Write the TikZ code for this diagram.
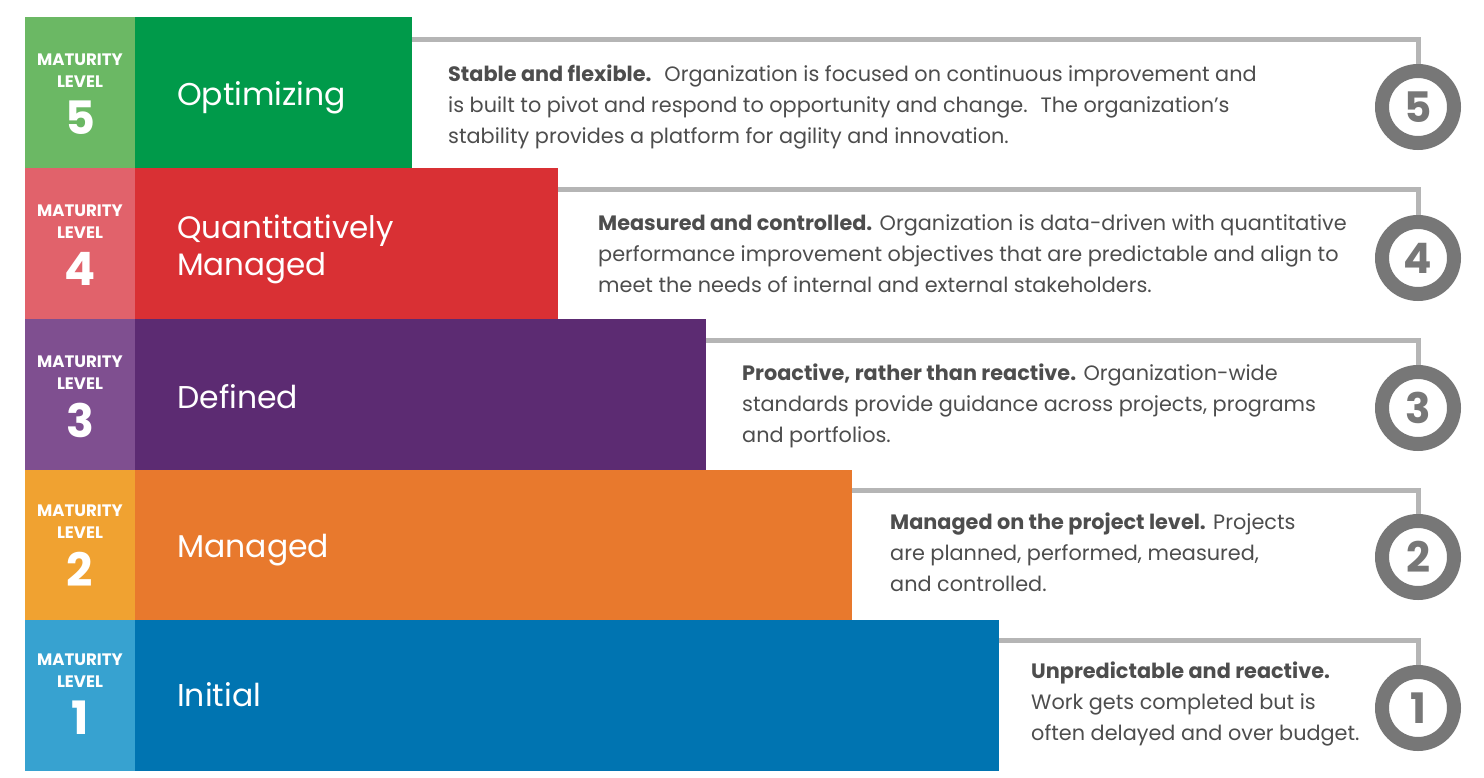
\documentclass[tikz,border=0pt]{standalone}
\usepackage{fontspec}
\setmainfont{Poppins}
\definecolor{gAl}{HTML}{6BB864}
\definecolor{gAd}{HTML}{009A4A}
\definecolor{rBl}{HTML}{E1626B}
\definecolor{rBd}{HTML}{D93034}
\definecolor{pCl}{HTML}{7F4F90}
\definecolor{pCd}{HTML}{5C2B72}
\definecolor{oDl}{HTML}{F0A231}
\definecolor{oDd}{HTML}{E8792D}
\definecolor{bEl}{HTML}{37A2D0}
\definecolor{bEd}{HTML}{0074B1}
\definecolor{descgray}{HTML}{4D4D4D}
\definecolor{ringgray}{HTML}{777777}
\definecolor{linegray}{HTML}{B5B5B5}
\begin{document}
\begin{tikzpicture}[x=1pt,y=-1pt,
  lvlbox/.style={anchor=north west, inner sep=0pt, outer sep=0pt, minimum width=110pt, minimum height=151pt},
  band/.style={anchor=north west, inner sep=0pt, outer sep=0pt, minimum height=151pt},
  conn/.style={draw=linegray, line width=5pt},
  ring/.style={circle, draw=ringgray, fill=white, line width=14pt, minimum size=72pt, inner sep=0pt, outer sep=7pt, text=ringgray, font=\fontsize{42}{42}\selectfont\bfseries},
  mlab/.style={text=white, inner sep=0pt, align=center, font=\fontsize{16.6}{22}\selectfont\bfseries},
  digit/.style={text=white, inner sep=0pt, font=\fontsize{46}{46}\selectfont\bfseries},
  ttl/.style={text=white, anchor=base west, inner sep=0pt, align=left, font=\fontsize{31.5}{37}\selectfont},
  desc/.style={anchor=north west, inner sep=0pt, align=left, text=descgray, font=\fontsize{20.8}{31}\selectfont}
]
\useasboundingbox (0,0) rectangle (1484,778);
\fill[white] (0,0) rectangle (1484,778);

% ---------- Level 5
\node[lvlbox, fill=gAl] (m5) at (25,17) {};
\node[band, fill=gAd, minimum width=277pt] (b5) at (135,17) {};
\node[mlab] (t5) at (80,71) {MATURITY\\LEVEL};
\node[digit] (d5) at (80,118) {5};
\node[ttl] (n5) at (177,106) {Optimizing};
\coordinate (s5) at (412,40);
\node[ring] (c5) at (1418,107) {5};
\draw[conn] (s5) -| (c5.north);
\node[desc] (x5) at (448,65) {\textbf{Stable and flexible.}~ Organization is focused on continuous improvement and\\
is built to pivot and respond to opportunity and change.~ The organization’s\\
stability provides a platform for agility and innovation.};

% ---------- Level 4
\node[lvlbox, fill=rBl] (m4) at (25,168) {};
\node[band, fill=rBd, minimum width=423pt] (b4) at (135,168) {};
\node[mlab] (t4) at (80,222) {MATURITY\\LEVEL};
\node[digit] (d4) at (80,269) {4};
\node[ttl, anchor=west, font=\fontsize{31}{37}\selectfont] (n4) at (177,249) {Quantitatively\\Managed};
\coordinate (s4) at (558,190);
\node[ring] (c4) at (1418,258) {4};
\draw[conn] (s4) -| (c4.north);
\node[desc] (x4) at (598,214) {\textbf{Measured and controlled.} Organization is data-driven with quantitative\\
performance improvement objectives that are predictable and align to\\
meet the needs of internal and external stakeholders.};

% ---------- Level 3
\node[lvlbox, fill=pCl] (m3) at (25,319) {};
\node[band, fill=pCd, minimum width=571pt] (b3) at (135,319) {};
\node[mlab] (t3) at (80,373) {MATURITY\\LEVEL};
\node[digit] (d3) at (80,420) {3};
\node[ttl] (n3) at (177,408) {Defined};
\coordinate (s3) at (706,340);
\node[ring] (c3) at (1418,408) {3};
\draw[conn] (s3) -| (c3.north);
\node[desc] (x3) at (742,364) {\textbf{Proactive, rather than reactive.} Organization-wide\\
standards provide guidance across projects, programs\\
and portfolios.};

% ---------- Level 2
\node[lvlbox, fill=oDl] (m2) at (25,470) {};
\node[band, fill=oDd, minimum width=717pt] (b2) at (135,470) {};
\node[mlab] (t2) at (80,522) {MATURITY\\LEVEL};
\node[digit] (d2) at (80,569) {2};
\node[ttl] (n2) at (177,557) {Managed};
\coordinate (s2) at (852,490);
\node[ring] (c2) at (1418,557) {2};
\draw[conn] (s2) -| (c2.north);
\node[desc] (x2) at (890,513) {\textbf{Managed on the project level.} Projects\\
are planned, performed, measured,\\
and controlled.};

% ---------- Level 1
\node[lvlbox, fill=bEl] (m1) at (25,620) {};
\node[band, fill=bEd, minimum width=864pt] (b1) at (135,620) {};
\node[mlab] (t1) at (80,671) {MATURITY\\LEVEL};
\node[digit] (d1) at (80,718) {1};
\node[ttl] (n1) at (177,706) {Initial};
\coordinate (s1) at (999,640);
\node[ring] (c1) at (1418,708) {1};
\draw[conn] (s1) -| (c1.north);
\node[desc] (x1) at (1031,662) {\textbf{Unpredictable and reactive.}\\
Work gets completed but is\\
often delayed and over budget.};
\end{tikzpicture}
\end{document}
